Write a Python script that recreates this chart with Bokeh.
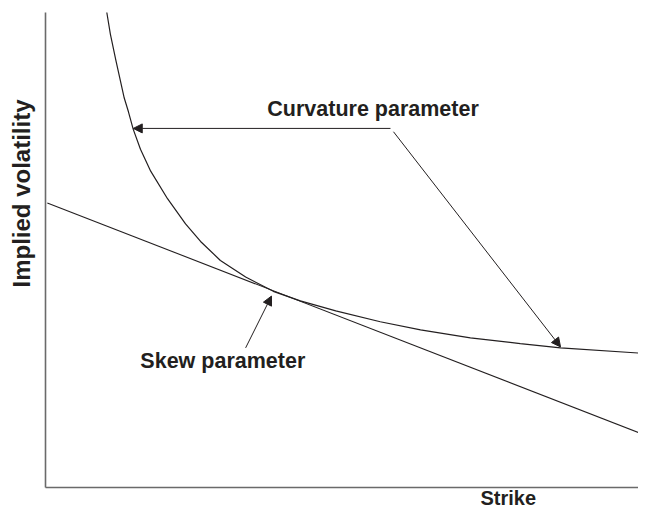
from bokeh.plotting import figure
from bokeh.models import Range1d, Label, Arrow, NormalHead, FixedTicker
from bokeh.embed import file_html
from bokeh.resources import INLINE
import math

# Volatility smile (curvature), arbitrary units 0..100
strike = [10.2, 10.8, 11.7, 13.1, 13.8, 14.6, 15.8, 17.5, 20.3, 23.3, 25.8, 29.1,
          33.3, 37.9, 42.4, 48.3, 55.7, 62.4, 70.7, 79.0, 85.7, 100.0]
smile_vol = [100.0, 95.4, 90.0, 82.0, 79.1, 75.4, 71.2, 66.6, 60.8, 55.5, 51.8, 47.8,
             44.3, 41.3, 39.3, 37.2, 34.9, 33.2, 31.5, 30.3, 29.4, 28.2]

# Tangent (skew) line end points
skew_strike = [0.3, 100.0]
skew_vol = [59.9, 10.9]

# Annotation arrows: start and end (strike, vol)
curv_arrow1 = [(57.4, 75.6), (14.6, 75.6)]
curv_arrow2 = [(57.9, 74.9), (85.7, 29.6)]
skew_arrow = [(33.3, 29.4), (37.6, 40.3)]

# Texts and their anchor positions (strike, vol)
labels_text = ["Curvature parameter", "Skew parameter", "Strike", "Implied volatility"]
labels_pos = [(54.5, 79.7), (29.5, 26.6), (77.0, -2.3), (-3.94, 61.9)]
labels_size = ["21.5px", "21.5px", "20px", "24px"]

INK = "#231f20"
FONT = "Liberation Sans"

p = figure(width=638, height=509, output_backend="svg", toolbar_location=None,
           x_range=Range1d(-7.49, 98.67), y_range=Range1d(-4.63, 102.53),
           min_border_left=0, min_border_right=0, min_border_top=0, min_border_bottom=0)
p.outline_line_color = None
p.grid.visible = False
p.background_fill_color = "white"
p.border_fill_color = "white"

for ax in (p.xaxis[0], p.yaxis[0]):
    ax.ticker = FixedTicker(ticks=[])
    ax.major_label_text_font_size = "0px"
    ax.major_tick_line_color = None
    ax.minor_tick_line_color = None
    ax.major_tick_out = 0
    ax.major_tick_in = 0
    ax.minor_tick_out = 0
    ax.minor_tick_in = 0
    ax.major_label_standoff = 0
    ax.axis_line_color = "#6a6a6a"
    ax.axis_line_width = 1.6
    ax.fixed_location = 0
    ax.bounds = (0, 100)

p.line(strike, smile_vol, line_color=INK, line_width=1.2)
p.line(skew_strike, skew_vol, line_color=INK, line_width=1.1)

for (s, e) in (curv_arrow1, curv_arrow2, skew_arrow):
    p.add_layout(Arrow(end=NormalHead(size=9, fill_color=INK, line_color=INK, line_width=1),
                       x_start=s[0], y_start=s[1], x_end=e[0], y_end=e[1],
                       line_color=INK, line_width=1))

for i, (t, (x, y), fs) in enumerate(zip(labels_text, labels_pos, labels_size)):
    p.add_layout(Label(x=x, y=y, text=t, text_font=FONT, text_font_style="bold",
                       text_font_size=fs, text_color=INK, text_align="center",
                       text_baseline="alphabetic",
                       angle=(math.pi / 2 if i == 3 else 0)))

open("out.html", "w").write(file_html(p, INLINE))
